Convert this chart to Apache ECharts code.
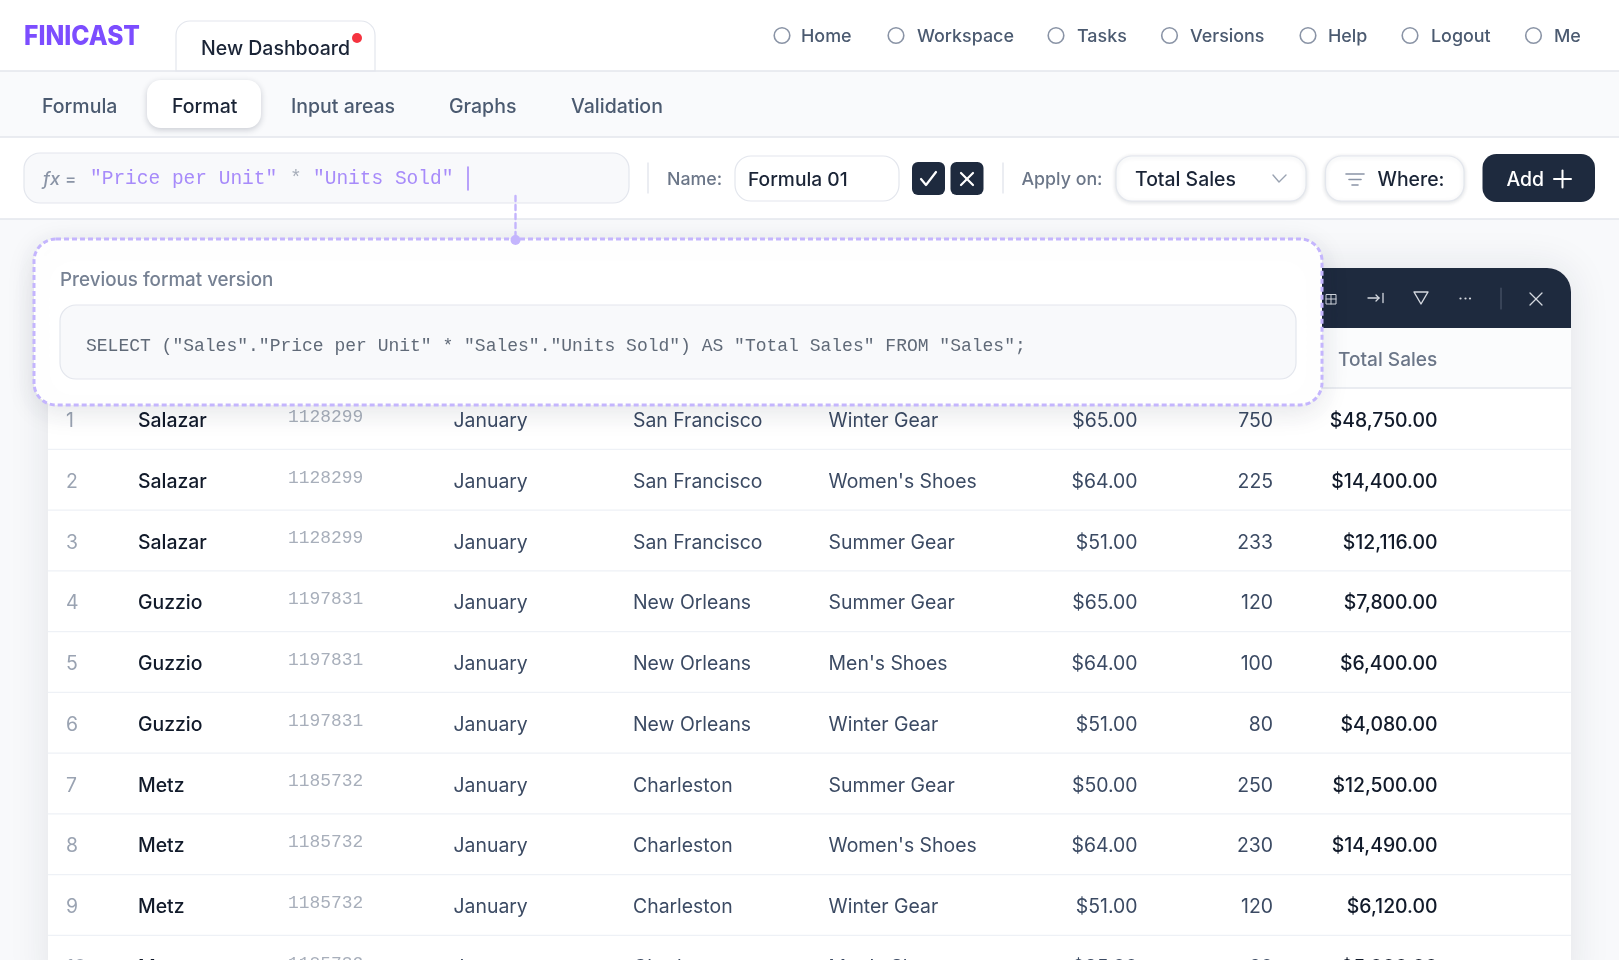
<!DOCTYPE html>
<html>
<head>
    <meta charset="utf-8">
    <title>Finicast</title>
    <script src="https://cdn.jsdelivr.net/npm/echarts@6/dist/echarts.min.js"></script>
    <style>html,body{margin:0;padding:0;background:#fff}</style>
</head>
<body>
    <div id="main" style="width:1619px;height:960px;"></div>
    <script type="text/javascript">
        // table data
        var reps = ['Salazar','Salazar','Salazar','Guzzio','Guzzio','Guzzio','Metz','Metz','Metz','Metz'];
        var repIds = ['1128299','1128299','1128299','1197831','1197831','1197831','1185732','1185732','1185732','1185732'];
        var months = ['January','January','January','January','January','January','January','January','January','January'];
        var cities = ['San Francisco','San Francisco','San Francisco','New Orleans','New Orleans','New Orleans','Charleston','Charleston','Charleston','Charleston'];
        var products = ['Winter Gear',"Women's Shoes",'Summer Gear','Summer Gear',"Men's Shoes",'Winter Gear','Summer Gear',"Women's Shoes",'Winter Gear',"Men's Shoes"];
        var prices = [65,64,51,65,64,51,50,64,51,85];
        var units = [750,225,233,120,100,80,250,230,120,60];
        var totals = [48750,14400,12116,7800,6400,4080,12500,14490,6120,5000];

        // page text
        var navItems = ['Home','Workspace','Tasks','Versions','Help','Logout','Me'];
        var subTabs = ['Formula','Format','Input areas','Graphs','Validation'];
        var codeLine = 'SELECT ("Sales"."Price per Unit" * "Sales"."Units Sold") AS "Total Sales" FROM "Sales";';

        var INTER = 'Inter, "Noto Sans", sans-serif';
        var MONO = '"Liberation Mono", monospace';
        var DARK = '#1e2a3e', PURPLE = '#a78bfa', DASH = '#c4b5fd', EDGE = '#e3e6ed', ICON = '#d5d9e0';
        var ROW = 19.4;

        // z 0 = behind the table rows, z 10 = popup in front of them
        function rect(x, y, w, h, r, fill, stroke, extra) {
            var st = { fill: fill, stroke: stroke || null, lineWidth: stroke ? 1.2 : 0 };
            for (var k in (extra || {})) st[k] = extra[k];
            return { type: 'rect', z: (extra && extra.zz) || 0, shape: { x: x, y: y, width: w, height: h, r: r }, style: st };
        }
        function label(x, y, str, size, color, weight, family, align, z) {
            return { type: 'text', z: z || 1, x: x, y: y, style: {
                text: str, fill: color, align: align || 'left', verticalAlign: 'middle',
                font: (weight || 400) + ' ' + size + 'px ' + (family || INTER) } };
        }
        function stroke(points, color, lw, z, dash) {
            return { type: 'polyline', z: z || 1, shape: { points: points },
                style: { stroke: color, lineWidth: lw, fill: null, lineDash: dash || null, lineCap: 'round', lineJoin: 'round' } };
        }
        function dot(x, y, r, fill, line, z) {
            return { type: 'circle', z: z || 1, shape: { cx: x, cy: y, r: r },
                style: { fill: fill, stroke: line || null, lineWidth: line ? 1.6 : 0 } };
        }

        var g = [];
        // page bands
        g.push(rect(0, 0, 1619, 71, 0, '#fff'));
        g.push(rect(0, 71, 1619, 66, 0, '#f9fafc'));
        g.push(rect(0, 137, 1619, 82, 0, '#fff'));
        g.push(rect(0, 219, 1619, 741, 0, '#f8f9fb'));
        g.push(stroke([[0, 71], [1619, 71]], EDGE, 1.4));
        g.push(stroke([[0, 137], [1619, 137]], EDGE, 1.4));
        g.push(stroke([[0, 219], [1619, 219]], EDGE, 1.4));

        // header
        var logo = label(24, 37, 'FINICAST', 27, '#7c4dff', 800);
        logo.scaleX = 0.91;
        g.push(logo);
        g.push(rect(176, 21, 199, 50, [14, 14, 0, 0], '#fff', EDGE));
        g.push(label(201, 49, 'New Dashboard', 19.5, '#1a2436', 500));
        g.push(dot(357, 38, 5, '#f5333f'));
        var navX = [782, 896, 1056, 1169.5, 1308, 1410, 1533.5];
        var navTextX = [801, 917, 1077, 1190, 1328, 1431, 1554];
        navItems.forEach(function (n, i) {
            g.push(dot(navX[i], 35.5, 7.8, '#fff', '#8a94a6'));
            g.push(label(navTextX[i], 37, n, 17.9, '#4b5a70', 500));
        });

        // sub tabs
        g.push(rect(147, 80, 114, 48, 14, '#fff', null, { shadowBlur: 6, shadowOffsetY: 2, shadowColor: 'rgba(30,42,62,.22)' }));
        var tabX = [42, 172, 291, 449, 571];
        subTabs.forEach(function (t, i) {
            g.push(label(tabX[i], 107, t, 19.5, i === 1 ? '#1a2436' : '#4b5a70', 500));
        });

        // formula bar
        g.push(rect(24, 153, 605, 50, 16, '#f8f9fb', EDGE));
        g.push(label(43, 180, 'fx', 18, '#8a94a6', 'italic 500'));
        g.push(label(65, 180, '=', 17, '#8a94a6', 500));
        g.push(label(90, 179, '"Price per Unit"', 19.5, PURPLE, 400, MONO));
        g.push(label(290, 179, '*', 19.5, '#a6adb9', 400, MONO));
        g.push(label(313, 179, '"Units Sold"', 19.5, PURPLE, 400, MONO));
        g.push(stroke([[468, 167], [468, 190]], PURPLE, 1.6));
        g.push(stroke([[648, 163], [648, 193]], EDGE, 1.4));
        g.push(label(667, 180, 'Name:', 17.8, '#6b7688', 500));
        g.push(rect(735, 156, 164, 45, 16, '#fff', EDGE));
        g.push(label(748, 180, 'Formula 01', 19.2, '#1a2436', 500));
        g.push(rect(912, 162, 33, 33, 6, DARK));
        g.push(stroke([[921, 179], [926, 185], [936, 172]], '#fff', 2.2));
        g.push(rect(950.5, 162, 33, 33, 6, DARK));
        g.push(stroke([[961, 173], [973, 185]], '#fff', 2.2));
        g.push(stroke([[973, 173], [961, 185]], '#fff', 2.2));
        g.push(stroke([[1003, 163], [1003, 193]], EDGE, 1.4));
        g.push(label(1021.5, 180, 'Apply on:', 17.8, '#6b7688', 500));
        var softShadow = { shadowBlur: 4, shadowOffsetY: 1, shadowColor: 'rgba(30,42,62,.14)' };
        g.push(rect(1116, 156, 190, 45, 16, '#fff', EDGE, softShadow));
        g.push(label(1135, 180, 'Total Sales', 19.4, '#1a2436', 500));
        g.push(stroke([[1273, 175], [1279, 182], [1286, 175]], '#9aa3b2', 1.4));
        g.push(rect(1325.5, 156, 138.5, 45, 16, '#fff', EDGE, softShadow));
        g.push(stroke([[1346, 174], [1364, 174]], '#8a94a6', 1.6));
        g.push(stroke([[1349, 179.5], [1361, 179.5]], '#8a94a6', 1.6));
        g.push(stroke([[1352, 185], [1358, 185]], '#8a94a6', 1.6));
        g.push(label(1377.5, 180, 'Where:', 19.4, '#1a2436', 500));
        g.push(rect(1482.5, 154, 112.5, 48, 14, DARK));
        g.push(label(1506.5, 180, 'Add', 19.4, '#fff', 500));
        g.push(stroke([[1554, 179], [1571, 179]], '#fff', 2));
        g.push(stroke([[1562.5, 170.5], [1562.5, 187.5]], '#fff', 2));

        // table panel behind the rows
        g.push(rect(48, 268, 1523, 720, [24, 24, 0, 0], '#fff', null, { shadowBlur: 40, shadowColor: 'rgba(30,42,62,.10)' }));
        g.push(rect(48, 268, 1523, 60, [24, 24, 0, 0], DARK));
        g.push(rect(48, 328, 1523, 60, 0, '#fbfcfd'));
        g.push(stroke([[48, 388], [1571, 388]], EDGE, 1.4));
        g.push(label(1338, 360, 'Total Sales', 19.1, '#6b7688', 500));
        // toolbar icons
        g.push({ type: 'rect', z: 1, shape: { x: 1326, y: 294.5, width: 10, height: 9.5 }, style: { fill: null, stroke: ICON, lineWidth: 1 } });
        g.push(stroke([[1331, 294.5], [1331, 304]], ICON, 1));
        g.push(stroke([[1326, 299], [1336, 299]], ICON, 1));
        g.push(stroke([[1368, 298], [1379, 298]], ICON, 1.3));
        g.push(stroke([[1376, 295], [1379, 298], [1376, 301]], ICON, 1.3));
        g.push(stroke([[1383, 293.5], [1383, 302.5]], ICON, 1.3));
        g.push(stroke([[1414, 292], [1428, 292], [1421, 304], [1414, 292]], ICON, 1.4));
        [1460.5, 1465.5, 1470].forEach(function (x) { g.push(dot(x, 298.5, 1.1, ICON)); });
        g.push(stroke([[1501, 288], [1501, 309]], '#4a566a', 1.2));
        g.push(stroke([[1530, 293], [1542, 305]], ICON, 1.3));
        g.push(stroke([[1542, 293], [1530, 305]], ICON, 1.3));

        // popup in front of the table
        g.push(rect(34, 239, 1288, 166, 22, '#fff', DASH, { lineWidth: 3, lineDash: [5, 3], shadowBlur: 28, shadowOffsetY: 6, shadowColor: 'rgba(30,42,62,.12)', zz: 10 }));
        g.push(stroke([[515.5, 196], [515.5, 240]], DASH, 2.4, 11, [5, 4]));
        g.push(dot(515.5, 240, 5, DASH, null, 11));
        g.push(label(60, 280.5, 'Previous format version', 18.8, '#768193', 500, null, 'left', 11));
        g.push(rect(60, 305, 1236, 74, 16, '#f8f9fb', EDGE, { zz: 11 }));
        g.push(label(86, 346, codeLine, 18, '#606a78', 400, MONO, 'left', 12));

        // one row of the table, positions come from the hidden axes
        var colX = { index: 66, rep: 138, id: 288, month: 453.5, city: 633, product: 828.6, price: 1137.5, units: 1273, total: 1437.5 };
        var rowNames = reps.map(function (_, i) { return String(i + 1); });
        function money(v) {
            return '$' + v.toLocaleString('en-US', { minimumFractionDigits: 2, maximumFractionDigits: 2 });
        }
        function cell(api, col, row, str, size, color, weight, family, align, dy) {
            var p = api.coord([colX[col], row]);
            return { type: 'text', x: p[0], y: p[1] + 2.2 + (dy || 0), style: {
                text: str, fill: color, align: align || 'left', verticalAlign: 'middle',
                font: (weight || 400) + ' ' + size + 'px ' + (family || INTER) } };
        }
        function renderRow(params, api) {
            var i = api.value(0);
            var band = api.size([0, 1])[1];
            var y = api.coord([0, i])[1] + band / 2;
            var txt = '#3b4a63';
            return { type: 'group', children: [
                { type: 'line', shape: { x1: 48, y1: y, x2: 1571, y2: y }, style: { stroke: '#eef1f6', lineWidth: 1.4 } },
                cell(api, 'index', i, String(i + 1), ROW, '#9aa3b2'),
                cell(api, 'rep', i, reps[i], ROW, '#111a2a', 500),
                cell(api, 'id', i, repIds[i], 17.9, '#a8afbb', 400, MONO, 'left', -4),
                cell(api, 'month', i, months[i], ROW, txt),
                cell(api, 'city', i, cities[i], ROW, txt),
                cell(api, 'product', i, products[i], ROW, txt),
                cell(api, 'price', i, money(prices[i]), ROW, txt, 400, null, 'right'),
                cell(api, 'units', i, String(units[i]), ROW, txt, 400, null, 'right'),
                cell(api, 'total', i, money(totals[i]), ROW, '#111a2a', 500, null, 'right')
            ] };
        }

        var myChart = echarts.init(document.getElementById('main'));
        var option = {
            animation: false,
            backgroundColor: '#fff',
            graphic: { elements: g },
            grid: { left: 0, right: 0, top: 388.6, height: 607.5, containLabel: false, outerBoundsMode: 'none' },
            xAxis: { type: 'value', min: 0, max: 1619, show: false },
            yAxis: { type: 'category', inverse: true, data: rowNames, show: false },
            series: [{
                type: 'custom',
                z: 2,
                clip: false,
                renderItem: renderRow,
                encode: { x: 1, y: 0 },
                data: rowNames.map(function (_, i) { return [i, 0]; })
            }]
        };
        myChart.setOption(option);
    </script>
</body>
</html>
